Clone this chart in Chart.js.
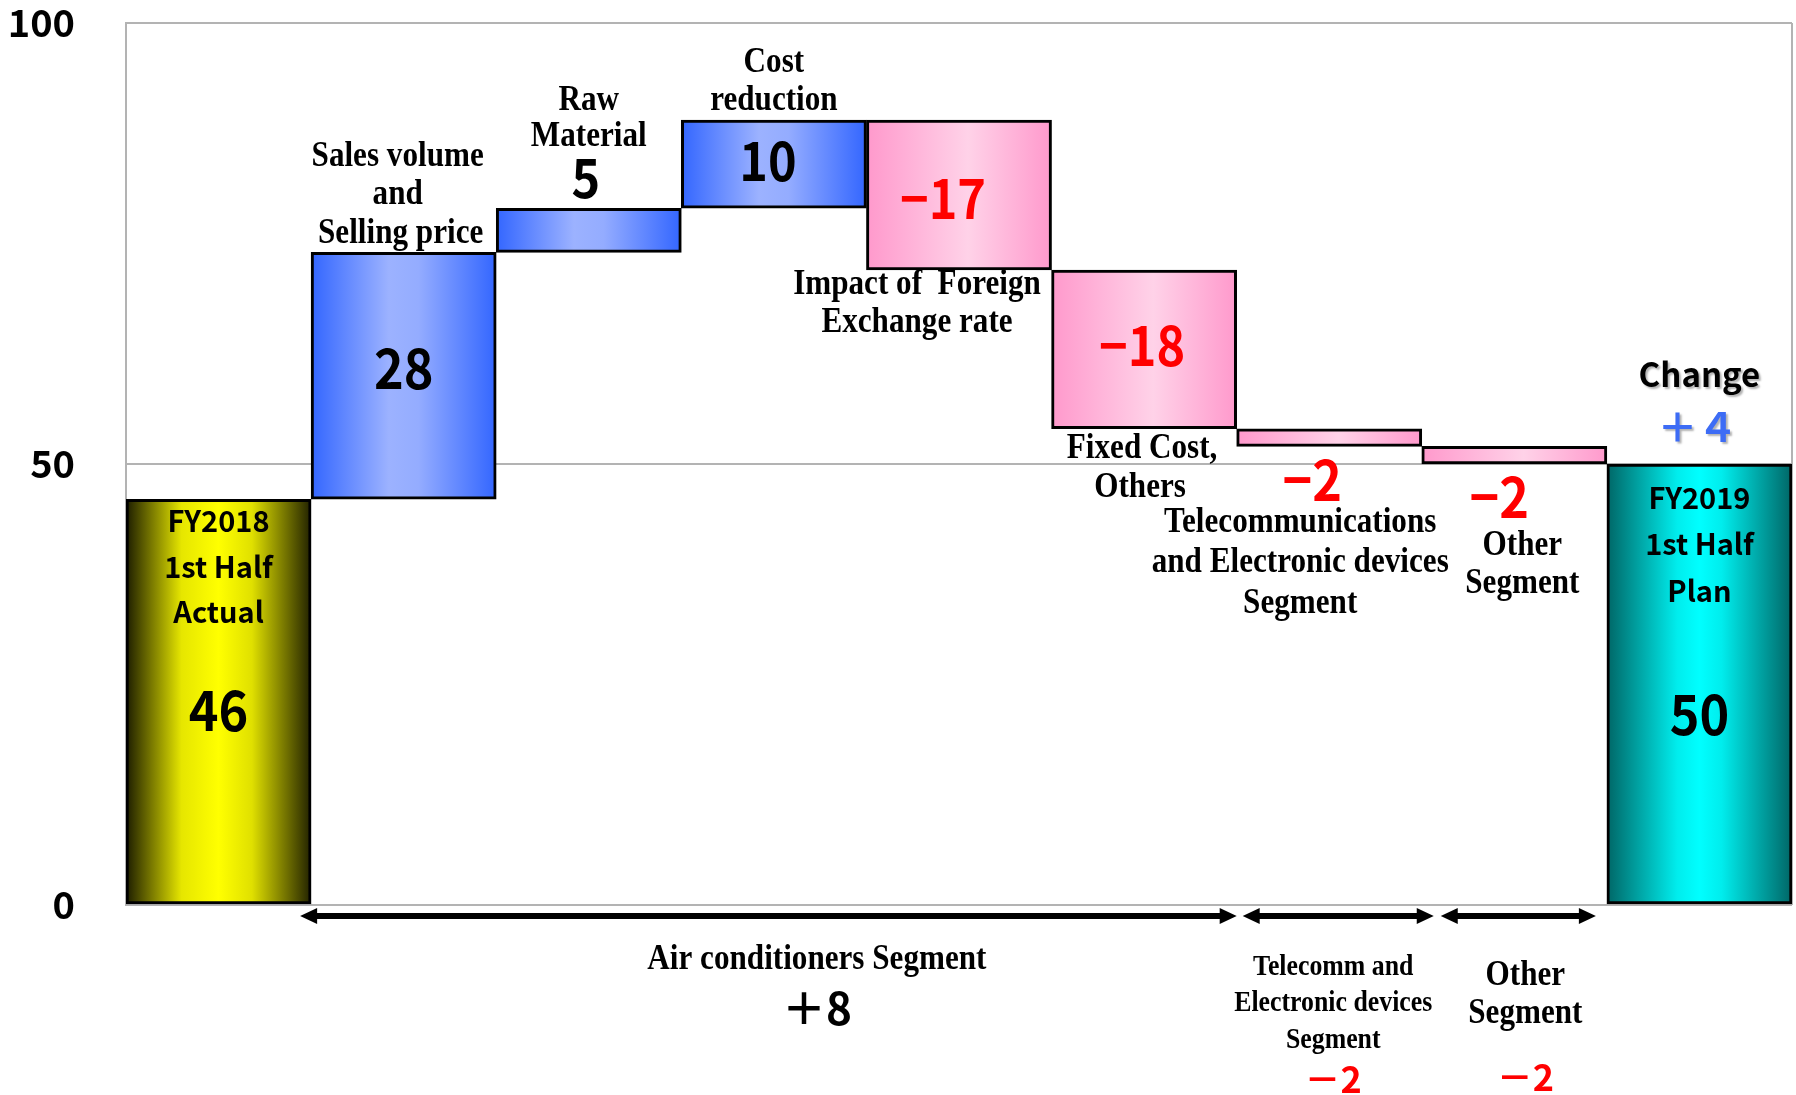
<!DOCTYPE html>
<html>
<head>
<meta charset="utf-8">
<script src="https://cdn.jsdelivr.net/npm/chart.js@4.4.1/dist/chart.umd.min.js"></script>
<style>
  html, body { margin: 0; padding: 0; background: #fff; }
</style>
</head>
<body>
<canvas id="bridge" width="1796" height="1095"></canvas>
<script>
// Operating income bridge, FY2018 1H actual -> FY2019 1H plan
const categories = [
  'FY2018 1st Half Actual',
  'Sales volume and Selling price',
  'Raw Material',
  'Cost reduction',
  'Impact of Foreign Exchange rate',
  'Fixed Cost, Others',
  'Telecommunications and Electronic devices Segment',
  'Other Segment',
  'FY2019 1st Half Plan'
];
const startValue = 46;
const changes = [28, 5, 10, -17, -18, -2, -2];
const endValue = 50;
const yTicks = [0, 50, 100];

// segments along the bottom: first and last bar index of each
const segmentNames = [
  ['Air conditioners Segment'],
  ['Telecomm and', 'Electronic devices', 'Segment'],
  ['Other', 'Segment']
];
const segmentBars = [[1, 5], [6, 6], [7, 7]];

const SERIF = '"Liberation Serif", "Times New Roman", serif';
const GOTHIC = '"Noto Sans CJK JP", "Noto Sans", sans-serif';

// floating [from, to] ranges for the waterfall
const ranges = [[0, startValue]];
let run = startValue;
changes.forEach(c => { ranges.push([run, run + c]); run += c; });
ranges.push([0, endValue]);

const last = categories.length - 1;

function barKind(i) {
  if (i === 0) return 'start';
  if (i === last) return 'end';
  return changes[i - 1] > 0 ? 'up' : 'down';
}

const fills = {
  start: [[0, '#1c1c00'], [0.3, '#e6e600'], [0.5, '#ffff00'], [0.68, '#e0e000'], [1, '#222200']],
  up:    [[0, '#3366ff'], [0.42, '#9cb2ff'], [0.58, '#94acff'], [1, '#3366ff']],
  down:  [[0, '#ff99cc'], [0.55, '#ffd2e8'], [1, '#ff99cc']],
  end:   [[0, '#006666'], [0.38, '#00eded'], [0.5, '#00ffff'], [0.62, '#00eded'], [1, '#006666']]
};

function fmtDelta(v) {
  return v < 0 ? '\u2212' + Math.abs(v) : String(v);
}
function fullWidth(s) {
  return s.replace(/\d/g, d => String.fromCharCode(0xFF10 + Number(d)));
}
function barValue(i) {
  if (i === 0) return startValue;
  if (i === last) return endValue;
  return changes[i - 1];
}

// text placed against a bar: at = top | bottom | mid of the bar
const notes = [
  { i: 0, at: 'top', dy: 22, text: 'FY2018', font: GOTHIC, size: 29 },
  { i: 0, at: 'top', dy: 68, text: '1st Half', font: GOTHIC, size: 29 },
  { i: 0, at: 'top', dy: 113, text: 'Actual', font: GOTHIC, size: 29 },
  { i: 0, at: 'top', dy: 210, value: true, font: GOTHIC, size: 56, sx: 0.9 },

  { i: 1, at: 'top', dx: -6, dy: -95, text: 'Sales volume' },
  { i: 1, at: 'top', dx: -6, dy: -57, text: 'and' },
  { i: 1, at: 'top', dx: -3, dy: -18, text: 'Selling price' },
  { i: 1, at: 'mid', dy: -8, value: true, font: GOTHIC, size: 56, sx: 0.9 },

  { i: 2, at: 'top', dy: -107, text: 'Raw' },
  { i: 2, at: 'top', dy: -71, text: 'Material' },
  { i: 2, at: 'top', dx: -3, dy: -31, value: true, font: GOTHIC, size: 54, sx: 0.9 },

  { i: 3, at: 'top', dy: -57, text: 'Cost' },
  { i: 3, at: 'top', dy: -19, text: 'reduction' },
  { i: 3, at: 'mid', dx: -6, dy: -4, value: true, font: GOTHIC, size: 54, sx: 0.9 },

  { i: 4, at: 'mid', dx: -16, dy: 3, value: true, font: GOTHIC, size: 54, sx: 0.9 },
  { i: 4, at: 'bottom', dx: -42, dy: 15, text: 'Impact of  Foreign' },
  { i: 4, at: 'bottom', dx: -42, dy: 53, text: 'Exchange rate' },

  { i: 5, at: 'mid', dx: -2, dy: -4, value: true, font: GOTHIC, size: 54, sx: 0.9 },
  { i: 5, at: 'bottom', dx: -2, dy: 20, text: 'Fixed Cost,' },
  { i: 5, at: 'bottom', dx: -4, dy: 59, text: 'Others' },

  { i: 6, at: 'bottom', dx: -17, dy: 33, value: true, font: GOTHIC, size: 56, sx: 0.9 },
  { i: 6, at: 'bottom', dx: -29, dy: 77, text: 'Telecommunications' },
  { i: 6, at: 'bottom', dx: -29, dy: 117, text: 'and Electronic devices' },
  { i: 6, at: 'bottom', dx: -29, dy: 158, text: 'Segment' },

  { i: 7, at: 'bottom', dx: -15, dy: 33, value: true, font: GOTHIC, size: 56, sx: 0.9 },
  { i: 7, at: 'bottom', dx: 8, dy: 82, text: 'Other' },
  { i: 7, at: 'bottom', dx: 8, dy: 120, text: 'Segment' },

  { i: 8, at: 'top', dy: 34, text: 'FY2019', font: GOTHIC, size: 29 },
  { i: 8, at: 'top', dy: 80, text: '1st Half', font: GOTHIC, size: 29 },
  { i: 8, at: 'top', dy: 127, text: 'Plan', font: GOTHIC, size: 29 },
  { i: 8, at: 'top', dy: 250, value: true, font: GOTHIC, size: 56, sx: 0.9 },
  { i: 8, at: 'top', dy: -90, text: 'Change', font: GOTHIC, size: 33, shadow: true },
  { i: 8, at: 'top', dx: -2, dy: -37, change: true, font: GOTHIC, size: 40, color: '#3d6cf5', shadow: true }
];

// segment captions under the arrows, offsets from the plot bottom
const segmentLayout = [
  { inset: [-11, 0], dx: 43, lines: [55], size: 35, valueDy: 103, valueColor: '#000', valueSize: 44 },
  { inset: [6, 12], dx: 4, lines: [63, 99, 136], size: 29, valueDy: 174, valueColor: '#ff0000', valueSize: 36 },
  { inset: [19, -11], dx: 11, lines: [71, 109], size: 35, valueDy: 172, valueColor: '#ff0000', valueSize: 36 }
];

function put(ctx, text, x, y, font, color, sx, shadow) {
  ctx.save();
  ctx.translate(x, y);
  ctx.scale(sx || 1, 1);
  ctx.font = font;
  ctx.fillStyle = color;
  ctx.textAlign = 'center';
  ctx.textBaseline = 'middle';
  if (shadow) {
    ctx.shadowColor = 'rgba(0,0,0,0.3)';
    ctx.shadowOffsetX = 2;
    ctx.shadowOffsetY = 2;
    ctx.shadowBlur = 2;
  }
  ctx.fillText(text, 0, 0);
  ctx.restore();
}

function doubleArrow(ctx, x1, x2, y) {
  const head = 17, half = 8;
  ctx.save();
  ctx.fillStyle = '#000';
  ctx.strokeStyle = '#000';
  ctx.lineWidth = 6;
  ctx.beginPath();
  ctx.moveTo(x1 + head - 2, y);
  ctx.lineTo(x2 - head + 2, y);
  ctx.stroke();
  ctx.beginPath();
  ctx.moveTo(x1, y);
  ctx.lineTo(x1 + head, y - half);
  ctx.lineTo(x1 + head, y + half);
  ctx.closePath();
  ctx.fill();
  ctx.beginPath();
  ctx.moveTo(x2, y);
  ctx.lineTo(x2 - head, y - half);
  ctx.lineTo(x2 - head, y + half);
  ctx.closePath();
  ctx.fill();
  ctx.restore();
}

const bridgeLabels = {
  id: 'bridgeLabels',
  beforeDatasetsDraw(chart) {
    // right edge of the plot frame
    const { ctx, chartArea } = chart;
    ctx.save();
    ctx.strokeStyle = '#b3b3b3';
    ctx.lineWidth = 2;
    ctx.beginPath();
    ctx.moveTo(chartArea.right, chartArea.top);
    ctx.lineTo(chartArea.right, chartArea.bottom);
    ctx.stroke();
    ctx.restore();
  },
  afterDatasetsDraw(chart) {
    const { ctx, chartArea } = chart;
    const bars = chart.getDatasetMeta(0).data;

    notes.forEach(n => {
      const bar = bars[n.i];
      const top = Math.min(bar.y, bar.base);
      const bottom = Math.max(bar.y, bar.base);
      const anchor = n.at === 'top' ? top : n.at === 'bottom' ? bottom : (top + bottom) / 2;
      let text = n.text;
      let color = n.color || '#000';
      if (n.value) {
        const v = barValue(n.i);
        text = fmtDelta(v);
        if (v < 0) color = '#ff0000';
      }
      if (n.change) {
        text = '\uFF0B' + fullWidth(String(endValue - startValue));
      }
      const family = n.font || SERIF;
      const size = n.size || 35;
      const sx = n.sx || (family === SERIF ? 0.89 : 1);
      put(ctx, text, bar.x + (n.dx || 0), anchor + n.dy, 'bold ' + size + 'px ' + family, color, sx, n.shadow);
    });

    // segment arrows and totals below the plot
    const arrowY = chartArea.bottom + 11;
    segmentBars.forEach((range, s) => {
      const a = bars[range[0]], b = bars[range[1]];
      const left = a.x - a.width / 2, right = b.x + b.width / 2;
      const lay = segmentLayout[s];
      doubleArrow(ctx, left + lay.inset[0], right + lay.inset[1], arrowY);

      const cx = (left + right) / 2 + lay.dx;
      segmentNames[s].forEach((line, k) => {
        put(ctx, line, cx, chartArea.bottom + lay.lines[k], 'bold ' + lay.size + 'px ' + SERIF, '#000', 0.89);
      });
      let sum = 0;
      for (let i = range[0]; i <= range[1]; i++) sum += changes[i - 1];
      const txt = (sum > 0 ? '\uFF0B' : '\uFF0D') + Math.abs(sum);
      put(ctx, txt, cx, chartArea.bottom + lay.valueDy, 'bold ' + lay.valueSize + 'px ' + GOTHIC, lay.valueColor, 1);
    });
  }
};

new Chart(document.getElementById('bridge'), {
  type: 'bar',
  data: {
    labels: categories,
    datasets: [{
      data: ranges,
      backgroundColor(ctx) {
        const chart = ctx.chart;
        const area = chart.chartArea;
        if (!area || ctx.type !== 'data') return '#cccccc';
        const cx = chart.scales.x.getPixelForValue(ctx.dataIndex);
        const half = (area.right - area.left) / categories.length / 2;
        const g = chart.ctx.createLinearGradient(cx - half, 0, cx + half, 0);
        fills[barKind(ctx.dataIndex)].forEach(([p, c]) => g.addColorStop(p, c));
        return g;
      },
      borderColor: '#000',
      borderWidth: 3,
      borderSkipped: false,
      barPercentage: 1,
      categoryPercentage: 1
    }]
  },
  options: {
    responsive: false,
    devicePixelRatio: 1,
    animation: false,
    layout: { padding: { left: 0, top: 23, right: 4, bottom: 190 } },
    plugins: {
      legend: { display: false },
      tooltip: { enabled: false }
    },
    scales: {
      x: { display: false },
      y: {
        min: 0,
        max: 100,
        afterFit(scale) {
          // wide gap between labels and axis, but no extra room above/below
          scale.width = 126;
          scale.paddingTop = 19;
          scale.paddingBottom = 19;
        },
        afterBuildTicks(scale) { scale.ticks = yTicks.map(v => ({ value: v })); },
        ticks: {
          padding: 51,
          color: '#000',
          font: { family: GOTHIC, size: 38, weight: 'bold', lineHeight: 1 }
        },
        grid: { color: '#b3b3b3', lineWidth: 2, drawTicks: false },
        border: { color: '#b3b3b3', width: 2 }
      }
    }
  },
  plugins: [bridgeLabels]
});
</script>
</body>
</html>
